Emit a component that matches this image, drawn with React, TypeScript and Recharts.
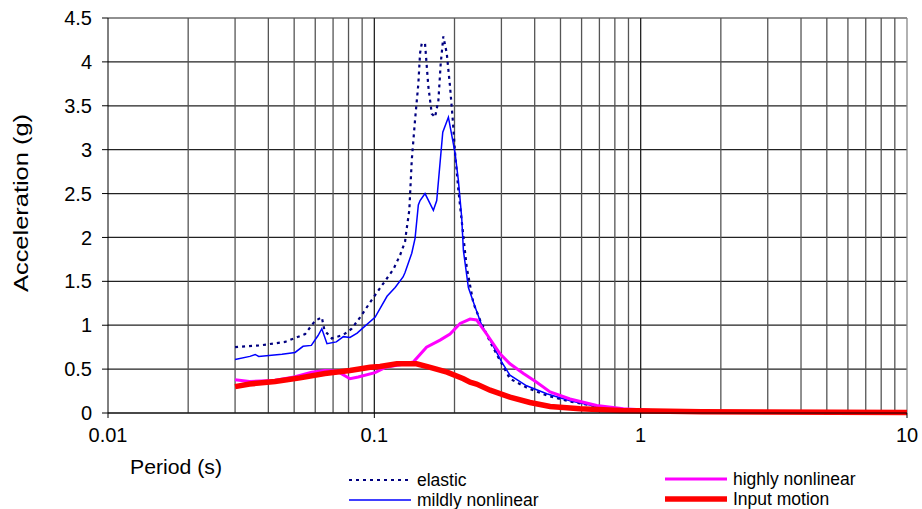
import React from 'react';
import { LineChart, Line, XAxis, YAxis, CartesianGrid, ReferenceLine } from 'recharts';

const xTicks = [0.01, 0.1, 1, 10];
const yTicks = [0, 0.5, 1, 1.5, 2, 2.5, 3, 3.5, 4, 4.5];
const minorGrid = [0.02, 0.03, 0.04, 0.05, 0.06, 0.07, 0.08, 0.09, 0.2, 0.3, 0.4, 0.5, 0.6, 0.7, 0.8, 0.9, 2, 3, 4, 5, 6, 7, 8, 9];

const elasticPeriods = [0.03, 0.0372, 0.0462, 0.055, 0.0599, 0.0635, 0.065, 0.0692, 0.0765, 0.0822, 0.0884, 0.0964, 0.1066, 0.118, 0.125, 0.1304, 0.132, 0.1353, 0.1382, 0.1422, 0.1463, 0.1485, 0.1507, 0.155, 0.1595, 0.1643, 0.169, 0.174, 0.1775, 0.1816, 0.187, 0.1924, 0.197, 0.201, 0.2068, 0.2223, 0.2355, 0.2494, 0.272, 0.301, 0.323, 0.373, 0.444, 0.543, 0.684, 0.813, 1.0, 1.5, 3, 10];
const elasticAccel = [0.75, 0.77, 0.81, 0.9, 1.05, 1.09, 0.94, 0.85, 0.89, 0.96, 1.09, 1.26, 1.45, 1.64, 1.8, 1.95, 2.08, 2.31, 2.88, 3.34, 3.75, 4.1, 4.21, 4.21, 3.72, 3.41, 3.37, 3.56, 3.98, 4.29, 4.1, 3.72, 3.34, 2.96, 2.54, 1.66, 1.25, 1.06, 0.81, 0.56, 0.39, 0.29, 0.2, 0.13, 0.074, 0.045, 0.03, 0.015, 0.008, 0.004];

const mildPeriods = [0.03, 0.0341, 0.0357, 0.0368, 0.045, 0.0504, 0.054, 0.058, 0.0614, 0.0635, 0.0664, 0.072, 0.0765, 0.081, 0.0862, 0.0922, 0.1006, 0.1116, 0.1197, 0.1282, 0.1304, 0.1382, 0.1422, 0.1463, 0.1485, 0.155, 0.1666, 0.1715, 0.1807, 0.1897, 0.201, 0.2068, 0.2128, 0.216, 0.2255, 0.2388, 0.253, 0.272, 0.301, 0.323, 0.373, 0.444, 0.543, 0.684, 0.813, 1.0, 1.5, 3, 10];
const mildAccel = [0.61, 0.645, 0.667, 0.645, 0.67, 0.69, 0.76, 0.77, 0.88, 0.96, 0.79, 0.81, 0.87, 0.86, 0.91, 0.99, 1.09, 1.33, 1.43, 1.55, 1.6, 1.82, 1.99, 2.37, 2.42, 2.5, 2.31, 2.42, 3.2, 3.37, 2.96, 2.65, 2.23, 1.85, 1.43, 1.21, 1.0, 0.83, 0.58, 0.43, 0.31, 0.22, 0.14, 0.074, 0.048, 0.03, 0.015, 0.008, 0.004];

const highPeriods = [0.03, 0.034, 0.042, 0.05, 0.0582, 0.0652, 0.0722, 0.081, 0.087, 0.1006, 0.11, 0.125, 0.14, 0.157, 0.1765, 0.1924, 0.21, 0.2288, 0.242, 0.264, 0.2965, 0.323, 0.363, 0.407, 0.457, 0.543, 0.684, 0.861, 1.084, 1.69, 10];
const highAccel = [0.38, 0.36, 0.37, 0.41, 0.465, 0.485, 0.48, 0.39, 0.41, 0.46, 0.52, 0.55, 0.58, 0.75, 0.83, 0.9, 1.02, 1.07, 1.06, 0.9, 0.675, 0.56, 0.45, 0.35, 0.24, 0.16, 0.085, 0.048, 0.03, 0.017, 0.004];

const inputPeriods = [0.03, 0.034, 0.0424, 0.0526, 0.0652, 0.081, 0.0964, 0.105, 0.1214, 0.144, 0.162, 0.1875, 0.216, 0.2288, 0.242, 0.272, 0.323, 0.384, 0.457, 0.592, 0.84, 1.69, 10];
const inputAccel = [0.3, 0.33, 0.36, 0.4, 0.45, 0.485, 0.52, 0.53, 0.56, 0.56, 0.52, 0.465, 0.39, 0.35, 0.33, 0.26, 0.18, 0.12, 0.074, 0.048, 0.028, 0.015, 0.005];

const build = (ts: number[], vs: number[]) => ts.map((t, i) => ({ t, a: vs[i] }));

const series = [
  { name: 'elastic', data: build(elasticPeriods, elasticAccel), color: '#000080', width: 2.2, dash: '3 4' },
  { name: 'mildly nonlinear', data: build(mildPeriods, mildAccel), color: '#0000FF', width: 1.5, dash: undefined },
  { name: 'highly nonlinear', data: build(highPeriods, highAccel), color: '#FF00FF', width: 3, dash: undefined },
  { name: 'Input motion', data: build(inputPeriods, inputAccel), color: '#FF0000', width: 5.5, dash: undefined },
];

const FONT = '"Liberation Sans", Arial, sans-serif';

const legendPos = [
  { left: 348, top: 470 },
  { left: 348, top: 490 },
  { left: 664, top: 469 },
  { left: 664, top: 489 },
];

export default function App() {
  return (
    <div style={{ position: 'fixed', left: 0, top: 0, width: 922, height: 509, fontFamily: FONT, overflow: 'hidden', background: '#fff' }}>
      <LineChart width={922} height={509} margin={{ top: 18, right: 15, left: 48, bottom: 66 }}>
        <CartesianGrid vertical={false} stroke="#222" strokeWidth={1.2} />
        {minorGrid.map((v) => (
          <ReferenceLine key={'m' + v} x={v} stroke="#555" strokeWidth={1.3} />
        ))}
        {xTicks.slice(1).map((v) => (
          <ReferenceLine key={'d' + v} x={v} stroke={v === 10 ? '#888' : '#222'} strokeWidth={1.3} />
        ))}
        <XAxis
          dataKey="t"
          type="number"
          scale="log"
          domain={[0.01, 10]}
          ticks={xTicks}
          allowDataOverflow
          height={30}
          tickSize={5}
          tickMargin={10}
          stroke="#000"
          tick={{ fill: '#000', fontSize: 20, fontFamily: FONT }}
          tickLine={{ stroke: '#000' }}
          label={{
            content: (p: any) => {
              const vb = p.viewBox || { x: 108, y: 412 };
              return (
                <text
                  x={vb.x + 22}
                  y={vb.y + 61}
                  fontSize={20}
                  fontFamily={FONT}
                  fill="#000"
                  textLength={92}
                  lengthAdjust="spacingAndGlyphs"
                >
                  Period (s)
                </text>
              );
            },
          }}
        />
        <YAxis
          type="number"
          domain={[0, 4.5]}
          ticks={yTicks}
          width={60}
          tickSize={6}
          tickMargin={10}
          stroke="#000"
          tick={{ fill: '#000', fontSize: 20, fontFamily: FONT }}
          tickLine={{ stroke: '#000' }}
          label={{
            content: () => (
              <text
                x={20}
                y={203}
                transform="rotate(-90 20 203)"
                textAnchor="middle"
                dominantBaseline="central"
                fontSize={21}
                fontFamily={FONT}
                fill="#000"
                textLength={178}
                lengthAdjust="spacingAndGlyphs"
              >
                Acceleration (g)
              </text>
            ),
          }}
        />
        {series.map((s) => (
          <Line
            key={s.name}
            data={s.data}
            dataKey="a"
            name={s.name}
            type="linear"
            stroke={s.color}
            strokeWidth={s.width}
            strokeDasharray={s.dash}
            dot={false}
            activeDot={false}
            isAnimationActive={false}
          />
        ))}
      </LineChart>
      {series.map((s, i) => (
        <div
          key={s.name}
          style={{
            position: 'absolute',
            left: legendPos[i].left,
            top: legendPos[i].top,
            display: 'flex',
            alignItems: 'center',
            height: 20,
            fontSize: 17.5,
            color: '#000',
            whiteSpace: 'nowrap',
          }}
        >
          <svg width={64} height={20} style={{ marginRight: 5 }}>
            <line x1={1} y1={10} x2={63} y2={10} stroke={s.color} strokeWidth={s.width} strokeDasharray={s.dash} />
          </svg>
          <span>{s.name}</span>
        </div>
      ))}
    </div>
  );
}
